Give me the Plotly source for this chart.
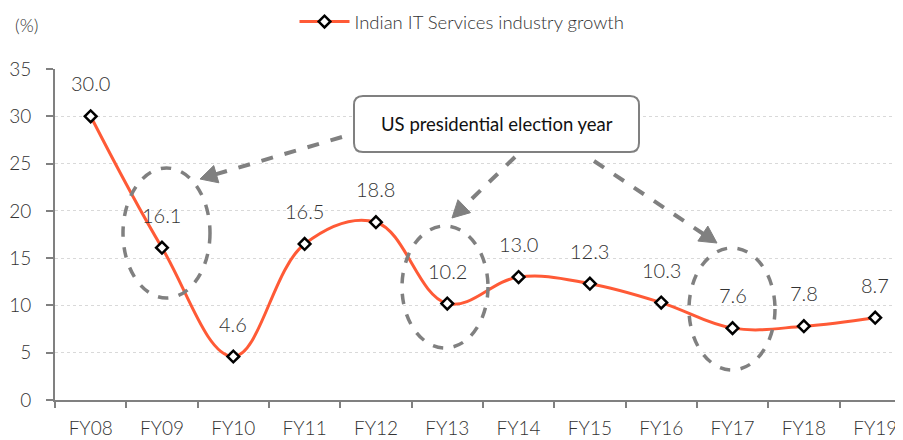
import plotly.graph_objects as go
import math

# ---- data ----
categories = ["FY08", "FY09", "FY10", "FY11", "FY12", "FY13", "FY14", "FY15", "FY16", "FY17", "FY18", "FY19"]
growth = [30.0, 16.1, 4.6, 16.5, 18.8, 10.2, 13.0, 12.3, 10.3, 7.6, 7.8, 8.7]
series_name = "Indian IT Services industry growth"
y_ticks = [0, 5, 10, 15, 20, 25, 30, 35]
callout_text = "US presidential election year"

# ---- layout geometry ----
OFF = 8                       # page body margin
W, H = 903 - OFF, 440 - OFF   # figure size
L, R, T, B = 47, 0, 61, 40
PW, PH = W - L - R, H - T - B
FONT = "Lato"
WGT = 300
GRAY = "#808080"
TXT = "#333333"


def px(x):
    """screen x -> paper x"""
    return (x - OFF - L) / PW


def py(y):
    """screen y -> paper y"""
    return (H - B - (y - OFF)) / PH


fig = go.Figure()
fig.add_trace(go.Scatter(
    x=categories, y=growth, name=series_name, mode="lines+markers",
    line=dict(color="#FF5A36", width=3, shape="spline", smoothing=1.1),
    marker=dict(symbol="diamond", size=9, color="white", line=dict(color="black", width=2.5)),
    showlegend=True,
))

annotations = []
for c, v in zip(categories, growth):
    annotations.append(dict(x=c, y=v, text=f"{v:.1f}", showarrow=False, yshift=33,
                            xanchor="center", yanchor="middle",
                            font=dict(family=FONT, size=20, color=TXT, weight=WGT)))

annotations.append(dict(xref="paper", yref="paper", x=px(26), y=py(25), text="(%)",
                        xanchor="center", yanchor="middle",
                        showarrow=False, font=dict(family=FONT, size=18, color=TXT, weight=WGT)))
annotations.append(dict(xref="paper", yref="paper", x=px(496.5), y=py(124), text=callout_text,
                        xanchor="center", yanchor="middle",
                        showarrow=False, font=dict(family=FONT, size=18.5, color="#111111")))

shapes = []
# ellipses (cx, cy, rx, ry) in screen pixels
for cx, cy, rx, ry in [(166.5, 233, 43.5, 65), (445, 287, 43, 61), (732, 309, 43, 61)]:
    shapes.append(dict(type="circle", xref="paper", yref="paper",
                       x0=px(cx - rx), x1=px(cx + rx), y0=py(cy + ry), y1=py(cy - ry),
                       line=dict(color=GRAY, width=3.5, dash="dash")))

# rounded callout box
bx0, bx1, by0, by1, rr = 354, 639, 96, 152, 9
pts = [("M", bx0 + rr, by0), ("L", bx1 - rr, by0), ("Q", bx1, by0, bx1, by0 + rr),
       ("L", bx1, by1 - rr), ("Q", bx1, by1, bx1 - rr, by1), ("L", bx0 + rr, by1),
       ("Q", bx0, by1, bx0, by1 - rr), ("L", bx0, by0 + rr), ("Q", bx0, by0, bx0 + rr, by0)]
path = ""
for p in pts:
    cmd, coords = p[0], p[1:]
    xy = []
    for i in range(0, len(coords), 2):
        xy.append(f"{px(coords[i]):.5f},{py(coords[i+1]):.5f}")
    path += cmd + " ".join(xy) + " "
shapes.append(dict(type="path", xref="paper", yref="paper", path=path + "Z",
                   fillcolor="white", line=dict(color=GRAY, width=2)))

# dashed arrows
for (sx, sy), (tx, ty) in [((342, 137), (200, 179)), ((515, 157), (452, 218)), ((594, 161), (717, 243))]:
    dx, dy = tx - sx, ty - sy
    d = math.hypot(dx, dy)
    ux, uy = dx / d, dy / d
    hl, hw = 17, 9
    bxm, bym = tx - ux * hl, ty - uy * hl
    shapes.append(dict(type="line", xref="paper", yref="paper",
                       x0=px(sx), y0=py(sy), x1=px(bxm + ux * 2), y1=py(bym + uy * 2),
                       line=dict(color=GRAY, width=4, dash="dash")))
    p1 = (bxm - uy * hw, bym + ux * hw)
    p2 = (bxm + uy * hw, bym - ux * hw)
    tri = (f"M{px(tx):.5f},{py(ty):.5f} L{px(p1[0]):.5f},{py(p1[1]):.5f} "
           f"L{px(p2[0]):.5f},{py(p2[1]):.5f} Z")
    shapes.append(dict(type="path", xref="paper", yref="paper", path=tri,
                       fillcolor=GRAY, line=dict(color=GRAY, width=1)))

fig.update_layout(
    width=W, height=H,
    margin=dict(l=L, r=R, t=T, b=B, autoexpand=False),
    plot_bgcolor="white", paper_bgcolor="white",
    font=dict(family=FONT, color=TXT),
    showlegend=True,
    legend=dict(orientation="h", x=px(462), xanchor="center", y=py(22), yanchor="middle",
                font=dict(family=FONT, size=18.5, color=TXT, weight=WGT), itemwidth=50,
                bgcolor="rgba(0,0,0,0)"),
    annotations=annotations,
    shapes=shapes,
    xaxis=dict(type="category", range=[-0.5, 11.39], tickson="boundaries", automargin=False,
               ticks="outside", ticklen=6, tickwidth=2, tickcolor=GRAY,
               showline=True, linecolor=GRAY, linewidth=2, showgrid=False,
               tickfont=dict(family=FONT, size=19, color=TXT, weight=WGT), ticklabelstandoff=10),
    yaxis=dict(range=[0, 35], tickvals=y_ticks, ticks="outside", ticklen=7, tickwidth=2,
               tickcolor=GRAY, showline=True, linecolor=GRAY, linewidth=2, automargin=False,
               showgrid=True, gridcolor="#d9d9d9", griddash="dot", gridwidth=1,
               zeroline=False, tickfont=dict(family=FONT, size=19, color=TXT, weight=WGT),
               ticklabelstandoff=11),
)

fig.write_html("out.html")
